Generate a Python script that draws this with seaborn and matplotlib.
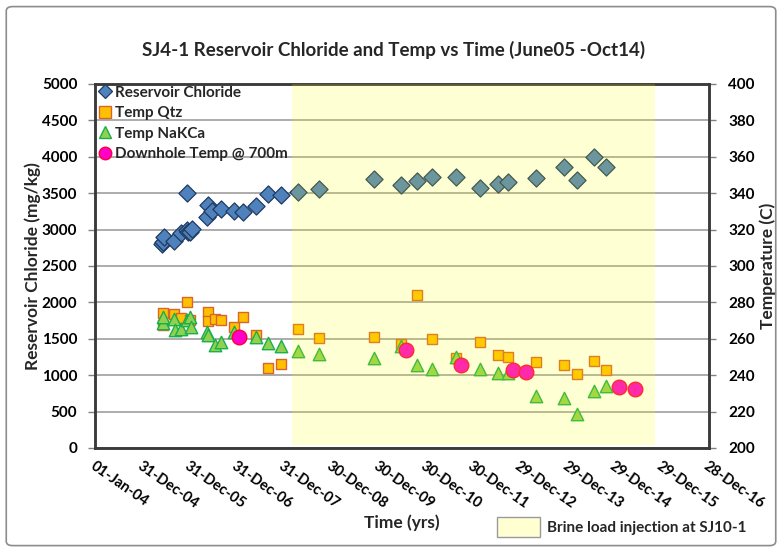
import numpy as np
import pandas as pd
import matplotlib
matplotlib.use("Agg")
import matplotlib.pyplot as plt
from matplotlib.patches import FancyBboxPatch, Patch
from matplotlib.lines import Line2D
import seaborn as sns

# ---------------- data ----------------
chloride_dates = ["2005-05-29", "2005-06-08", "2005-06-16", "2005-08-30", "2005-10-21",
                  "2005-12-06", "2005-12-10", "2005-12-20", "2006-01-01", "2006-01-14",
                  "2006-05-15", "2006-05-22", "2006-06-18", "2006-08-28", "2006-12-07",
                  "2007-02-12", "2007-05-24", "2007-08-25", "2007-12-05", "2008-04-17",
                  "2008-09-27", "2009-11-21", "2010-06-18", "2010-10-22", "2011-02-17",
                  "2011-08-22", "2012-02-24", "2012-07-12", "2012-09-22", "2013-04-27",
                  "2013-11-29", "2014-03-15", "2014-07-24", "2014-10-25"]
chloride_values = [2802, 2834, 2902, 2848, 2949,
                   3499, 3000, 2960, 2971, 3004,
                   3177, 3338, 3255, 3279, 3255,
                   3237, 3324, 3485, 3475, 3512,
                   3558, 3695, 3613, 3668, 3727,
                   3727, 3567, 3622, 3650, 3713,
                   3864, 3681, 4001, 3856]

qtz_dates = ["2005-06-08", "2005-06-10", "2005-08-30", "2005-10-21", "2005-12-06",
             "2006-01-01", "2006-05-20", "2006-05-22", "2006-07-13", "2006-08-28",
             "2006-12-07", "2007-02-12", "2007-05-24", "2007-08-25", "2007-12-05",
             "2008-04-17", "2008-09-27", "2009-11-21", "2010-06-18", "2010-10-22",
             "2011-02-17", "2011-08-22", "2012-02-24", "2012-07-12", "2012-09-22",
             "2013-04-27", "2013-11-29", "2014-03-15", "2014-07-24", "2014-10-25"]
qtz_values = [274.0, 267.6, 273.5, 271.6, 280.4,
              270.3, 274.9, 269.8, 270.7, 270.3,
              266.3, 272.2, 262.1, 244.1, 246.0,
              265.4, 260.6, 261.2, 257.0, 284.2,
              259.9, 249.3, 258.4, 251.1, 249.8,
              247.4, 245.6, 240.7, 247.8, 242.9]

nakca_dates = ["2005-06-06", "2005-06-08", "2005-08-30", "2005-09-07", "2005-10-21",
               "2005-12-06", "2006-01-01", "2006-01-05", "2006-05-15", "2006-05-22",
               "2006-07-13", "2006-08-28", "2006-12-07", "2007-05-24", "2007-08-25",
               "2007-12-05", "2008-04-17", "2008-09-27", "2009-11-21", "2010-06-18",
               "2010-10-22", "2011-02-17", "2011-08-22", "2012-02-24", "2012-07-12",
               "2012-09-22", "2013-04-27", "2013-11-29", "2014-03-15", "2014-07-24",
               "2014-10-25"]
nakca_values = [268.5, 272.2, 270.7, 264.8, 265.2,
                270.3, 272.2, 266.6, 263.9, 262.1,
                256.6, 258.4, 263.9, 261.2, 257.9,
                256.0, 253.3, 251.5, 249.3, 256.2,
                245.6, 243.2, 249.8, 243.2, 241.0,
                241.4, 228.6, 227.3, 218.7, 231.5,
                234.1]

downhole_dates = ["2007-01-15", "2010-07-28", "2011-10-01", "2012-11-05",
                  "2013-02-09", "2015-02-03", "2015-06-02"]
downhole_values = [261.2, 253.8, 245.8, 242.9, 241.9, 233.4, 232.4]

brine_start = "2008-02-29"
brine_end = "2015-11-05"

series_labels = ["Reservoir Chloride", "Temp Qtz", "Temp NaKCa", "Downhole Temp @ 700m"]
brine_label = "Brine load injection at SJ10-1"

# ---------------- styling ----------------
sns.set_theme(style="white")
plt.rcParams["font.family"] = ["Lato", "DejaVu Sans"]
plt.rcParams["font.weight"] = "bold"
plt.rcParams["axes.labelweight"] = "bold"

fig = plt.figure(figsize=(7.82, 5.5), dpi=100)
ax = fig.add_axes([0.1221, 0.1855, 0.7845, 0.6618])
ax2 = ax.twinx()

cl_face, cl_edge = "#4F81BD", "#1F3A5F"
qz_face, qz_edge = "#FFC000", "#D8662C"
nk_face, nk_edge = "#92D050", "#18B04C"
dh_face, dh_edge = "#FF00CC", "#FF0033"

df_cl = pd.DataFrame({"date": pd.to_datetime(chloride_dates), "value": chloride_values})
df_qz = pd.DataFrame({"date": pd.to_datetime(qtz_dates), "value": qtz_values})
df_nk = pd.DataFrame({"date": pd.to_datetime(nakca_dates), "value": nakca_values})
df_dh = pd.DataFrame({"date": pd.to_datetime(downhole_dates), "value": downhole_values})

sns.scatterplot(data=df_cl, x="date", y="value", ax=ax, marker="D", s=76,
                color=cl_face, edgecolor=cl_edge, linewidth=0.9, zorder=3, legend=False)
sns.scatterplot(data=df_qz, x="date", y="value", ax=ax2, marker="s", s=54,
                color=qz_face, edgecolor=qz_edge, linewidth=1.0, zorder=3, legend=False)
sns.scatterplot(data=df_nk, x="date", y="value", ax=ax2, marker="^", s=80,
                color=nk_face, edgecolor=nk_edge, linewidth=1.0, zorder=4, legend=False)
sns.scatterplot(data=df_dh, x="date", y="value", ax=ax2, marker="o", s=110,
                color=dh_face, edgecolor=dh_edge, linewidth=1.0, zorder=5, legend=False)

# brine-injection band (drawn over the markers, semi transparent like the original)
ax2.axvspan(pd.Timestamp(brine_start), pd.Timestamp(brine_end), ymin=0.008, ymax=1.0,
            color="#FFFF00", alpha=0.17, lw=0, zorder=10)

# x axis: 365-day steps from 01-Jan-04
start = pd.Timestamp("2004-01-01")
xticks = [start + pd.Timedelta(days=365 * i) for i in range(14)]
ax.set_xlim(xticks[0], xticks[-1])
ax.set_xticks(xticks)
ax.set_xticklabels([t.strftime("%d-%b-%y") for t in xticks], rotation=-35,
                   ha="left", va="top", rotation_mode="anchor", fontsize=10.5,
                   fontweight="bold")
ax.set_xlabel("")

ax.set_ylim(0, 5000)
ax.set_yticks(np.arange(0, 5001, 500))
ax.set_yticklabels([str(v) for v in range(0, 5001, 500)], fontsize=11, fontweight="bold")
ax2.set_ylim(200, 400)
ax2.set_yticks(np.arange(200, 401, 20))
ax2.set_yticklabels([str(v) for v in range(200, 401, 20)], fontsize=11, fontweight="bold")

ax.yaxis.grid(True, color="#A6A6A6", lw=1.3)
ax.xaxis.grid(False)
ax.set_axisbelow(True)

for a in (ax, ax2):
    for sp in a.spines.values():
        sp.set_color("#3A3A3A")
        sp.set_linewidth(1.8)
ax.tick_params(axis="both", which="major", direction="out", length=5, width=1,
               color="#808080", pad=3, labelcolor="black")
ax2.tick_params(axis="y", which="major", direction="out", length=5, width=1,
                color="#808080", pad=9, labelcolor="black")
ax.tick_params(axis="y", pad=8)

ax.set_ylabel("Reservoir Chloride (mg/kg)", fontsize=12.5, fontweight="bold")
ax.yaxis.set_label_coords(-0.088, 0.5)
ax2.set_ylabel("Temperature (C)", fontsize=12.5, fontweight="bold")
ax2.yaxis.set_label_coords(1.082, 0.5)

# series legend inside top-left
handles = [
    Line2D([], [], ls="", marker="D", ms=7, mfc=cl_face, mec=cl_edge, mew=0.9),
    Line2D([], [], ls="", marker="s", ms=8, mfc=qz_face, mec=qz_edge, mew=1.0),
    Line2D([], [], ls="", marker="^", ms=9, mfc=nk_face, mec=nk_edge, mew=1.0),
    Line2D([], [], ls="", marker="o", ms=9, mfc=dh_face, mec=dh_edge, mew=1.0),
]
leg = ax2.legend(handles, series_labels, loc="upper left", bbox_to_anchor=(-0.004, 1.012),
                 frameon=False, prop={"size": 11, "weight": "bold"},
                 handletextpad=0.25, labelspacing=0.42, handlelength=0.8,
                 borderaxespad=0.2, borderpad=0.2)
leg.set_zorder(20)

# title, x label and band legend
fig.text(0.503, 1 - 50 / 550, "SJ4-1 Reservoir Chloride and Temp vs Time (June05 -Oct14)",
         ha="center", va="center", fontsize=13.5, fontweight="bold")
fig.text(402 / 782, 1 - 523 / 550, "Time (yrs)", ha="center", va="center",
         fontsize=12.5, fontweight="bold")
fig.legend([Patch(facecolor="#FFFFD2", edgecolor="#9A9A9A", lw=1)], [brine_label],
           loc="center left", bbox_to_anchor=(497 / 782, 1 - 527 / 550),
           frameon=False, prop={"size": 11, "weight": "bold"},
           handlelength=2.8, handleheight=1.7, handletextpad=0.45, borderpad=0,
           borderaxespad=0)

# chart-area border
fig.patches.append(FancyBboxPatch((0.008, 0.008), 0.984, 0.980,
                                  boxstyle="round,pad=0,rounding_size=0.008",
                                  transform=fig.transFigure, fill=False,
                                  edgecolor="#8C8C8C", lw=1.2))

fig.savefig("out.png", dpi=100)
